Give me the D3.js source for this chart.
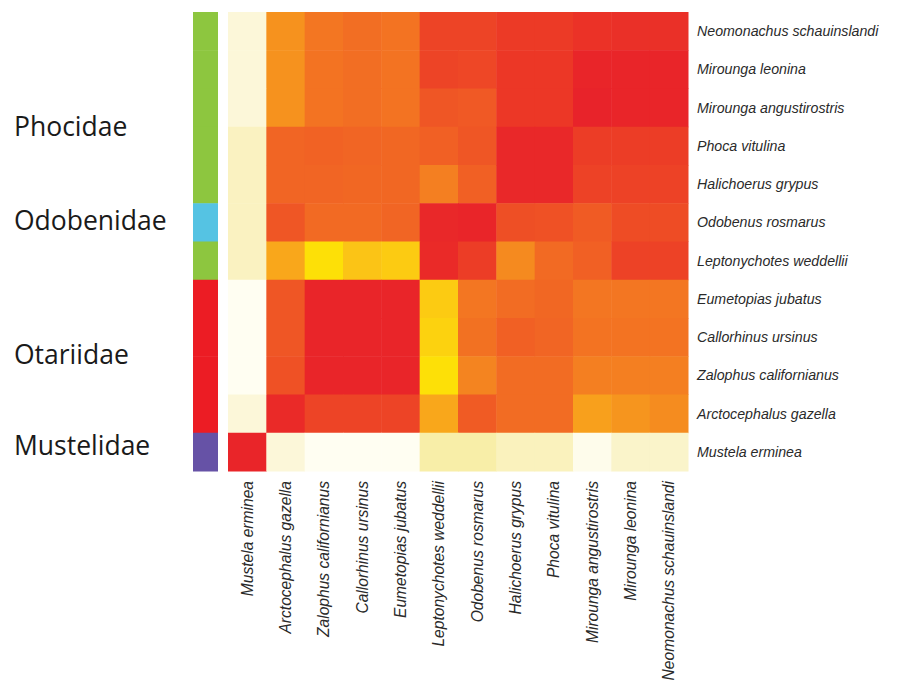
<!DOCTYPE html>
<html>
<head>
<meta charset="utf-8">
<script src="https://cdn.jsdelivr.net/npm/d3@7"></script>
<style>
  body { margin: 0; background: #fff; }
  svg { display: block; }
</style>
</head>
<body>
<svg id="chart" width="917" height="686"></svg>
<script>
// Species in row order (top to bottom)
const rowSpecies = [
  "Neomonachus schauinslandi", "Mirounga leonina", "Mirounga angustirostris",
  "Phoca vitulina", "Halichoerus grypus", "Odobenus rosmarus",
  "Leptonychotes weddellii", "Eumetopias jubatus", "Callorhinus ursinus",
  "Zalophus californianus", "Arctocephalus gazella", "Mustela erminea"
];

// Species in column order (left to right)
const colSpecies = [
  "Mustela erminea", "Arctocephalus gazella", "Zalophus californianus",
  "Callorhinus ursinus", "Eumetopias jubatus", "Leptonychotes weddellii",
  "Odobenus rosmarus", "Halichoerus grypus", "Phoca vitulina",
  "Mirounga angustirostris", "Mirounga leonina", "Neomonachus schauinslandi"
];

// Family of each row
const rowFamily = [
  "Phocidae", "Phocidae", "Phocidae", "Phocidae", "Phocidae", "Odobenidae",
  "Phocidae", "Otariidae", "Otariidae", "Otariidae", "Otariidae", "Mustelidae"
];

const families = ["Phocidae", "Odobenidae", "Otariidae", "Mustelidae"];
const familyColors = ["#8dc63f", "#55c3e3", "#ec1c24", "#6652a6"];

// Pairwise distance (0 = identical, 1 = most distant), rows x columns
const distance = [
  [0.92, 0.45, 0.34, 0.31, 0.33, 0.14, 0.14, 0.10, 0.10, 0.07, 0.06, 0.06],
  [0.92, 0.45, 0.33, 0.31, 0.33, 0.14, 0.15, 0.09, 0.09, 0.02, 0.02, 0.02],
  [0.92, 0.45, 0.33, 0.31, 0.33, 0.21, 0.22, 0.09, 0.09, 0.01, 0.02, 0.02],
  [0.86, 0.27, 0.26, 0.27, 0.28, 0.25, 0.21, 0.03, 0.03, 0.11, 0.11, 0.11],
  [0.86, 0.27, 0.27, 0.28, 0.28, 0.38, 0.25, 0.03, 0.03, 0.13, 0.13, 0.13],
  [0.86, 0.21, 0.29, 0.29, 0.27, 0.03, 0.02, 0.18, 0.19, 0.23, 0.17, 0.17],
  [0.86, 0.52, 0.68, 0.60, 0.62, 0.04, 0.11, 0.42, 0.29, 0.25, 0.13, 0.13],
  [0.99, 0.21, 0.02, 0.02, 0.02, 0.62, 0.34, 0.30, 0.28, 0.34, 0.34, 0.34],
  [0.99, 0.21, 0.02, 0.02, 0.02, 0.64, 0.32, 0.25, 0.27, 0.33, 0.33, 0.33],
  [0.99, 0.19, 0.02, 0.02, 0.02, 0.68, 0.40, 0.30, 0.30, 0.38, 0.38, 0.38],
  [0.92, 0.04, 0.14, 0.14, 0.14, 0.52, 0.23, 0.30, 0.30, 0.50, 0.46, 0.43],
  [0.02, 0.92, 0.99, 0.99, 0.99, 0.80, 0.80, 0.85, 0.85, 0.97, 0.88, 0.88]
];

const colorStops = [0, 0.10, 0.20, 0.30, 0.40, 0.50, 0.60, 0.68, 0.80, 0.90, 1.0];
const colorRange = ["#e8202a", "#ec3a26", "#ef5425", "#f26c23", "#f48420",
                    "#f8a01c", "#fbc416", "#fde007", "#f8eea8", "#fbf5d2", "#fffff6"];

// ---- layout ----
const svg = d3.select("#chart");
const grid = { left: 228, right: 688, top: 12, bottom: 471 };

const x = d3.scaleBand().domain(colSpecies).range([grid.left, grid.right]);
const y = d3.scaleBand().domain(rowSpecies).range([grid.top, grid.bottom]);
const color = d3.scaleLinear().domain(colorStops).range(colorRange).clamp(true);
const famColor = d3.scaleOrdinal().domain(families).range(familyColors);

// heatmap cells
const cells = [];
rowSpecies.forEach((r, i) => colSpecies.forEach((c, j) => cells.push({ r, c, v: distance[i][j] })));

svg.append("g").selectAll("rect").data(cells).join("rect")
  .attr("x", d => x(d.c))
  .attr("y", d => y(d.r))
  .attr("width", x.bandwidth() + 0.5)
  .attr("height", y.bandwidth() + 0.5)
  .attr("fill", d => color(d.v));

// family colour strip
svg.append("g").selectAll("rect").data(rowSpecies).join("rect")
  .attr("x", 193)
  .attr("y", d => y(d))
  .attr("width", 25)
  .attr("height", y.bandwidth() + 0.5)
  .attr("fill", (d, i) => famColor(rowFamily[i]));

// row labels (right)
svg.append("g").selectAll("text").data(rowSpecies).join("text")
  .attr("x", 697)
  .attr("y", d => y(d) + y.bandwidth() / 2)
  .attr("dy", "0.35em")
  .attr("font-family", "Liberation Sans, Arial, sans-serif")
  .attr("font-style", "italic")
  .attr("font-size", 14.2)
  .attr("fill", "#2a2a2a")
  .text(d => d);

// column labels (bottom, rotated)
svg.append("g").selectAll("text").data(colSpecies).join("text")
  .attr("transform", d => `translate(${x(d) + x.bandwidth() / 2},481) rotate(-90)`)
  .attr("text-anchor", "end")
  .attr("dy", "0.35em")
  .attr("font-family", "Liberation Sans, Arial, sans-serif")
  .attr("font-style", "italic")
  .attr("font-size", 15.6)
  .attr("fill", "#2a2a2a")
  .text(d => d);

// family names (left), centred on their row groups
const famLabelY = {
  Phocidae: y(rowSpecies[3]),
  Odobenidae: y(rowSpecies[5]) + y.bandwidth() * 0.45,
  Otariidae: y(rowSpecies[9]) - y.bandwidth() * 0.05,
  Mustelidae: y(rowSpecies[11]) + y.bandwidth() * 0.35
};
svg.append("g").selectAll("text").data(families).join("text")
  .attr("x", 14)
  .attr("y", d => famLabelY[d])
  .attr("dy", "0.35em")
  .attr("font-family", "Open Sans, Noto Sans, sans-serif")
  .attr("font-size", 26.5)
  .attr("fill", "#1a1a1a")
  .text(d => d);
</script>
</body>
</html>
